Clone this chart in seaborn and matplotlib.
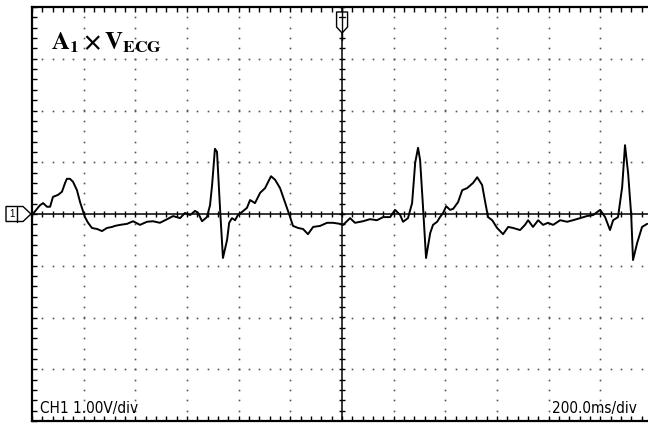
import numpy as np
import pandas as pd
import matplotlib
matplotlib.use('Agg')
import matplotlib.pyplot as plt
import matplotlib.transforms as mtransforms
from matplotlib import font_manager as fm
from matplotlib.patches import Polygon
from matplotlib.lines import Line2D
from matplotlib.ticker import MultipleLocator
import seaborn as sns

# ---- data (time in ms, voltage in V) ----
time_ms = [-1200, -1169, -1157, -1142, -1130, -1119, -1099, -1084, -1072, -1065,
           -1053, -1041, -1026, -1014, -995, -983, -968, -948, -929, -910,
           -890, -879, -859, -832, -809, -782, -755, -732, -705, -677,
           -654, -627, -608, -588, -569, -557, -542, -523, -511, -503,
           -492, -484, -472, -461, -445, -437, -426, -414, -403, -387,
           -368, -356, -337, -317, -298, -275, -259, -240, -221, -201,
           -190, -170, -151, -132, -112, -85, -58, -35, -8, 4,
           31, 50, 81, 108, 135, 159, 186, 205, 225, 236,
           255, 271, 283, 294, 302, 314, 325, 341, 352, 368,
           379, 391, 403, 418, 430, 449, 465, 484, 507, 523,
           542, 554, 565, 581, 600, 623, 643, 662, 689, 708,
           720, 739, 759, 778, 797, 817, 844, 871, 894, 921,
           948, 972, 999, 1018, 1037, 1049, 1068, 1084, 1095, 1107,
           1119, 1126, 1142, 1161, 1181]
volts = [-0.02, 0.17, 0.21, 0.14, 0.14, 0.33, 0.37, 0.43, 0.60, 0.68,
         0.68, 0.62, 0.46, 0.23, -0.06, -0.17, -0.27, -0.29, -0.33, -0.27,
         -0.25, -0.23, -0.21, -0.19, -0.14, -0.21, -0.15, -0.14, -0.17, -0.10,
         -0.04, -0.08, 0.02, -0.02, 0.06, 0.02, -0.14, -0.06, 0.17, 0.56,
         1.26, 1.20, 0.08, -0.85, -0.50, -0.17, -0.08, -0.12, -0.02, 0.04,
         0.12, 0.27, 0.21, 0.41, 0.50, 0.73, 0.66, 0.50, 0.23, -0.06,
         -0.23, -0.27, -0.29, -0.39, -0.25, -0.23, -0.17, -0.17, -0.19, -0.21,
         -0.08, -0.17, -0.14, -0.10, -0.12, -0.06, -0.06, 0.08, -0.02, -0.15,
         -0.08, 0.21, 0.99, 1.28, 1.04, 0.08, -0.85, -0.37, -0.21, -0.15,
         -0.06, 0.02, 0.15, 0.08, 0.10, 0.23, 0.46, 0.50, 0.60, 0.71,
         0.56, 0.23, -0.06, -0.12, -0.27, -0.39, -0.25, -0.27, -0.31, -0.21,
         -0.12, -0.25, -0.12, -0.21, -0.17, -0.21, -0.12, -0.15, -0.12, -0.08,
         -0.04, -0.02, 0.08, -0.06, -0.31, -0.12, -0.06, 0.52, 1.33, 0.79,
         -0.02, -0.89, -0.56, -0.25, -0.19]

title_text = r'$\mathbf{A_1 \times V_{ECG}}$'
scale_text = 'CH1 1.00V/div'
time_text = '200.0ms/div'
channel_label = '1'

ms_per_div = 200
v_per_div = 1.0

sns.set_theme(style='white')
plt.rcParams['mathtext.fontset'] = 'stix'
plt.rcParams['font.family'] = ['Liberation Sans', 'DejaVu Sans']

# pick a narrow sans face if one is installed
label_family, label_stretch = 'Liberation Sans', 'normal'
for f in fm.fontManager.ttflist:
    if ('Narrow' in f.name or 'Condensed' in f.name) and 'Mono' not in f.name \
            and 'Serif' not in f.name and f.weight in (400, 'normal', 'regular'):
        label_family, label_stretch = f.name, f.stretch
        break
    if f.stretch in ('condensed', 'semi-condensed', 'extra-condensed', 300) \
            and 'Sans' in f.name and 'Mono' not in f.name and f.weight in (400, 'normal'):
        label_family, label_stretch = f.name, f.stretch
        break

W, H = 648, 424
fig = plt.figure(figsize=(W / 100, H / 100), dpi=100)
fig.patch.set_facecolor('white')
ax = fig.add_axes([32 / W, 3 / H, 616 / W, 414 / H])
ax.set_facecolor('white')

# dotted graticule
dot_x = np.arange(-6 * ms_per_div, 6 * ms_per_div + 1, ms_per_div / 5)
dot_y = np.arange(-4, 4.001, v_per_div / 5)
for k in range(-5, 6):
    if k == 0:
        continue
    ax.plot(np.full(dot_y.shape, k * ms_per_div), dot_y, ls='none', marker='s',
            ms=1.2, mew=0, color='#555555', zorder=1)
for k in range(-3, 4):
    if k == 0:
        continue
    ax.plot(dot_x, np.full(dot_x.shape, k * v_per_div), ls='none', marker='s',
            ms=1.2, mew=0, color='#555555', zorder=1)

# central axes with ticks
ax.axhline(0, color='black', lw=1.1, zorder=2)
ax.axvline(0, color='black', lw=1.1, zorder=2)
ax.plot(dot_x, np.zeros_like(dot_x), ls='none', marker='|', ms=5, mew=1.0,
        color='black', zorder=2)
ax.plot(np.zeros_like(dot_y), dot_y, ls='none', marker='_', ms=5, mew=1.0,
        color='black', zorder=2)

# trace
df = pd.DataFrame({'t': time_ms, 'v': volts})
sns.lineplot(data=df, x='t', y='v', ax=ax, color='black', lw=1.4, sort=False,
             estimator=None, zorder=5)

ax.set_xlim(-6 * ms_per_div, 1184)
ax.set_ylim(-4, 4)
ax.set_xlabel('')
ax.set_ylabel('')
ax.xaxis.set_major_locator(MultipleLocator(ms_per_div))
ax.xaxis.set_minor_locator(MultipleLocator(ms_per_div / 5))
ax.yaxis.set_major_locator(MultipleLocator(v_per_div))
ax.yaxis.set_minor_locator(MultipleLocator(v_per_div / 5))
ax.tick_params(which='both', direction='in', length=3.5, width=1.0, color='black',
               top=True, bottom=True, left=True, right=False,
               labelbottom=False, labelleft=False, labeltop=False, labelright=False)
for side in ['top', 'bottom', 'left']:
    ax.spines[side].set_visible(True)
    ax.spines[side].set_color('black')
    ax.spines[side].set_linewidth(1.6)
ax.spines['right'].set_visible(False)
ax.grid(False)

# texts
fig.text(51 / W, 1 - 49 / H, title_text, fontsize=18, ha='left', va='baseline',
         color='black')
t1 = fig.text(40 / W, 1 - 413 / H, scale_text, fontsize=12, ha='left', va='baseline',
              color='black', family=[label_family, 'DejaVu Sans'], stretch=label_stretch)
t2 = fig.text(637 / W, 1 - 413 / H, time_text, fontsize=12, ha='right', va='baseline',
              color='black', family=[label_family, 'DejaVu Sans'], stretch=label_stretch)

# fit the label size to the reference width of the CH1 label (pixels)
renderer = fig.canvas.get_renderer()
w = t1.get_window_extent(renderer).width
size = t1.get_fontsize() * 98.0 / w
t1.set_fontsize(size)
t2.set_fontsize(size)

# channel ground marker (left)
tr_ch = mtransforms.blended_transform_factory(fig.transFigure, ax.transData)
hh = 7.5 / (414 / 8)
ch_poly = Polygon([(6 / W, hh), (23 / W, hh), (31 / W, 0), (23 / W, -hh), (6 / W, -hh)],
                  closed=True, facecolor='white', edgecolor='black', lw=1.0,
                  transform=tr_ch, clip_on=False)
fig.add_artist(ch_poly)
fig.add_artist(Line2D([17 / W, 17 / W], [hh, -hh], color='black', lw=1.0,
                      transform=tr_ch))
fig.text(11.5 / W, 0, channel_label, transform=tr_ch, fontsize=7, ha='center',
         va='center', color='black')

# trigger marker (top)
tr_tg = mtransforms.blended_transform_factory(ax.transData, fig.transFigure)
hw = 5.5 * (200 / 51.67)
tg_poly = Polygon([(-hw, 1 - 12 / H), (hw, 1 - 12 / H), (hw, 1 - 27 / H), (0, 1 - 33 / H),
                   (-hw, 1 - 27 / H)], closed=True, facecolor='white', edgecolor='black',
                  lw=1.0, transform=tr_tg, clip_on=False)
fig.add_artist(tg_poly)
fig.add_artist(Line2D([-hw * 0.6, hw * 0.6], [1 - 17 / H, 1 - 17 / H], color='black',
                      lw=1.0, transform=tr_tg))
fig.add_artist(Line2D([0, 0], [1 - 7 / H, 1 - 40 / H], color='black', lw=1.0,
                      transform=tr_tg))

fig.savefig('out.png', dpi=100)
